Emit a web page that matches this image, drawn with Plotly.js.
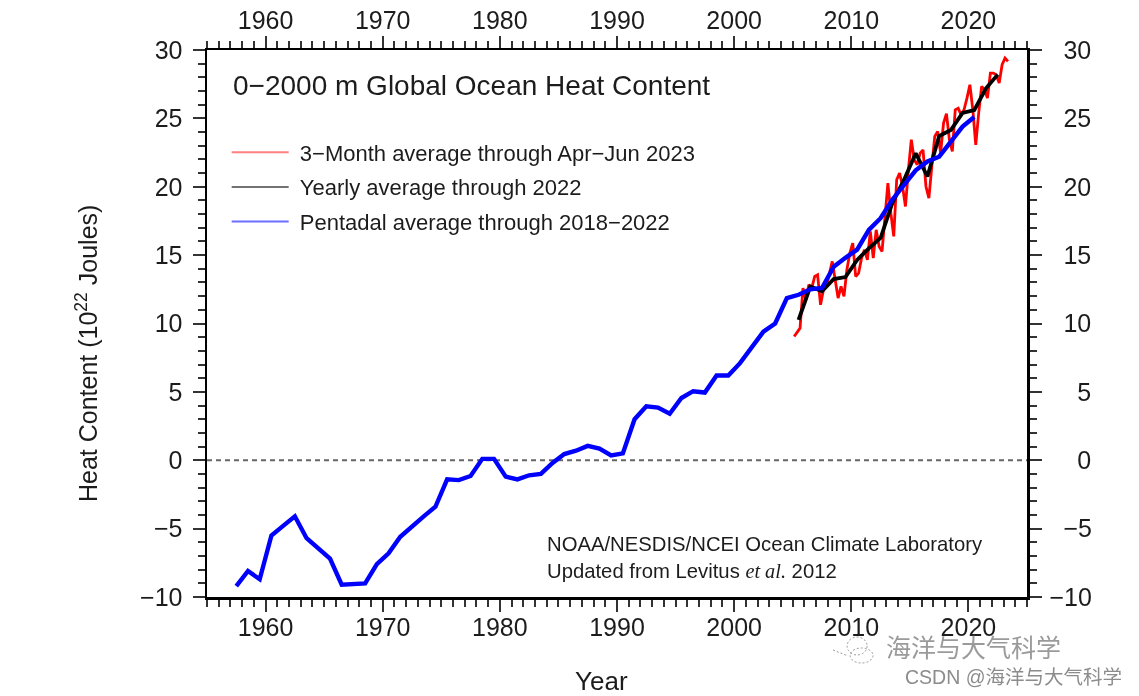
<!DOCTYPE html>
<html><head><meta charset="utf-8">
<script src="https://cdn.plot.ly/plotly-3.0.1.min.js"></script>
<style>html,body{margin:0;padding:0;background:#fff}#c{width:1139px;height:696px;filter:blur(0.45px)}</style>
</head><body><div id="c"></div>
<script>
const pentadalYears=[1957.5,1958.5,1959.5,1960.5,1961.5,1962.5,1963.5,1964.5,1965.5,1966.5,1967.5,1968.5,1969.5,1970.5,1971.5,1972.5,1973.5,1974.5,1975.5,1976.5,1977.5,1978.5,1979.5,1980.5,1981.5,1982.5,1983.5,1984.5,1985.5,1986.5,1987.5,1988.5,1989.5,1990.5,1991.5,1992.5,1993.5,1994.5,1995.5,1996.5,1997.5,1998.5,1999.5,2000.5,2001.5,2002.5,2003.5,2004.5,2005.5,2006.5,2007.5,2008.5,2009.5,2010.5,2011.5,2012.5,2013.5,2014.5,2015.5,2016.5,2017.5,2018.5,2019.5,2020.5];
const pentadalValues=[-9.2,-8.1,-8.7,-5.5,-4.8,-4.1,-5.7,-6.5,-7.2,-9.1,-9.05,-9.0,-7.6,-6.8,-5.6,-4.8,-4.1,-3.4,-1.4,-1.45,-1.15,0.1,0.1,-1.2,-1.4,-1.1,-1.0,-0.2,0.45,0.7,1.05,0.85,0.35,0.5,3.0,3.95,3.85,3.4,4.55,5.05,4.95,6.2,6.2,7.1,8.2,9.4,10.0,11.85,12.1,12.5,12.6,14.15,14.8,15.4,16.85,17.7,19.05,20.1,21.2,21.85,22.2,23.3,24.4,25.1];
const yearlyYears=[2005.5,2006.5,2007.5,2008.5,2009.5,2010.5,2011.5,2012.5,2013.5,2014.5,2015.5,2016.5,2017.5,2018.5,2019.5,2020.5,2021.5,2022.5];
const yearlyValues=[10.27,12.7,12.35,13.25,13.4,14.65,15.5,16.25,18.8,20.5,22.45,20.75,23.7,24.15,25.4,25.6,27.2,28.2];
const quarterYears=[2005.125,2005.375,2005.625,2005.875,2006.125,2006.375,2006.625,2006.875,2007.125,2007.375,2007.625,2007.875,2008.125,2008.375,2008.625,2008.875,2009.125,2009.375,2009.625,2009.875,2010.125,2010.375,2010.625,2010.875,2011.125,2011.375,2011.625,2011.875,2012.125,2012.375,2012.625,2012.875,2013.125,2013.375,2013.625,2013.875,2014.125,2014.375,2014.625,2014.875,2015.125,2015.375,2015.625,2015.875,2016.125,2016.375,2016.625,2016.875,2017.125,2017.375,2017.625,2017.875,2018.125,2018.375,2018.625,2018.875,2019.125,2019.375,2019.625,2019.875,2020.125,2020.375,2020.625,2020.875,2021.125,2021.375,2021.625,2021.875,2022.125,2022.375,2022.625,2022.875,2023.125,2023.375];
const quarterValues=[9.05,9.34,9.66,12.59,11.73,12.83,12.59,13.44,13.56,11.37,12.47,12.71,13.68,14.54,13.2,11.86,12.71,11.98,13.93,15.15,15.88,13.44,13.68,14.78,15.39,14.66,16.73,14.78,16.85,15.63,15.27,17.58,20.27,18.07,16.37,20.51,21.0,20.02,18.56,21.24,23.44,21.97,21.61,22.46,22.7,20.02,19.17,21.49,23.68,24.05,22.46,24.66,25.34,23.44,22.58,25.63,25.75,25.26,25.63,26.48,27.46,25.63,23.07,25.39,27.34,27.09,26.48,28.31,28.31,28.19,27.58,28.92,29.41,29.17];
const seriesNames=["3−Month average through Apr−Jun 2023","Yearly average through 2022","Pentadal average through 2018−2022"];
const xTicks=[1960,1970,1980,1990,2000,2010,2020];
const yTicks=[-10,-5,0,5,10,15,20,25,30];
const yLabels=["−10","−5","0","5","10","15","20","25","30"];
const NB='\u00A0';
const yLabelsRight=["−10",NB+NB+"−5",NB+NB+NB+NB+"0",NB+NB+NB+NB+"5",NB+NB+"10",NB+NB+"15",NB+NB+"20",NB+NB+"25",NB+NB+"30"];
const INK='#1c1c1c', FONT='"Liberation Sans",Arial,sans-serif';
function axis(extra){return Object.assign({showgrid:false,zeroline:false,showline:true,linecolor:'#000',linewidth:2.5,
  ticks:'outside',ticklen:12,tickwidth:2,tickcolor:'#333',tickfont:{family:FONT,size:25,color:INK},
  tickmode:'array',minor:{ticks:'outside',ticklen:7,tickwidth:2,tickcolor:'#333',dtick:1,tick0:0,showgrid:false}},extra);}
const data=[
 {x:quarterYears,y:quarterValues,mode:'lines',line:{color:'#ff0000',width:2.8},showlegend:false,hoverinfo:'skip'},
 {x:yearlyYears,y:yearlyValues,mode:'lines',line:{color:'#000',width:3.8},showlegend:false,hoverinfo:'skip'},
 {x:pentadalYears,y:pentadalValues,mode:'lines',line:{color:'#0000ff',width:4.4},showlegend:false,hoverinfo:'skip'},
 {x:[null],y:[null],mode:'lines',name:NB+seriesNames[0],legendgroup:'a',line:{color:'rgba(255,60,60,0.65)',width:2}},
 {x:[null],y:[null],mode:'lines',name:NB+seriesNames[1],legendgroup:'b',line:{color:'rgba(0,0,0,0.55)',width:2}},
 {x:[null],y:[null],mode:'lines',name:NB+seriesNames[2],legendgroup:'c',line:{color:'rgba(30,30,255,0.65)',width:2}},
 {x:[null],y:[null],xaxis:'x2',yaxis:'y2',showlegend:false,hoverinfo:'skip'}
];
const layout={
 width:1139,height:696,paper_bgcolor:'#fff',plot_bgcolor:'#fff',showlegend:true,
 margin:{l:206.5,r:112,t:50,b:99,pad:0},font:{family:FONT,color:INK},
 xaxis:axis({range:[1955,2025],tickvals:xTicks,ticktext:xTicks.map(String),ticklabelstandoff:-6}),
 yaxis:axis({range:[-10,30],tickvals:yTicks,ticktext:yLabels,ticklabelstandoff:5}),
 xaxis2:axis({range:[1955,2025],overlaying:'x',side:'top',anchor:'y',tickvals:xTicks,ticktext:xTicks.map(String),ticklabelstandoff:-3}),
 yaxis2:axis({range:[-10,30],overlaying:'y',side:'right',anchor:'x',tickvals:yTicks,ticktext:yLabelsRight,ticklabelstandoff:3}),
 legend:{x:0.024,y:0.851,xanchor:'left',yanchor:'top',bgcolor:'rgba(0,0,0,0)',font:{family:FONT,size:22,color:INK},itemwidth:57,tracegroupgap:3,traceorder:'grouped',itemclick:false},
 shapes:[
  {type:'line',xref:'paper',yref:'y',x0:0,x1:1,y0:0,y1:0,line:{color:'#666',width:2,dash:'5px,4px'},layer:'below'},
  {type:'circle',xref:'paper',yref:'paper',x0:0.7806,x1:0.805,y0:-0.106,y1:-0.0731,line:{color:'#999',width:1,dash:'2px,2px'}},
  {type:'circle',xref:'paper',yref:'paper',x0:0.7843,x1:0.8122,y0:-0.1207,y1:-0.0932,line:{color:'#999',width:1,dash:'2px,2px'}},
  {type:'line',xref:'paper',yref:'paper',x0:0.7635,x1:0.7818,y0:-0.0969,y1:-0.1079,line:{color:'#999',width:1,dash:'2px,2px'}}
 ],
 annotations:[
  {xref:'paper',yref:'paper',x:-0.147,y:0.445,xanchor:'center',yanchor:'middle',showarrow:false,textangle:-90,text:'Heat Content (10<sup>22</sup> Joules)',font:{family:FONT,size:25,color:INK}},
  {xref:'paper',yref:'paper',x:0.481,y:-0.153,xanchor:'center',yanchor:'middle',showarrow:false,text:'Year',font:{family:FONT,size:26,color:INK}},
  {xref:'paper',yref:'paper',x:0.0288,y:0.9665,xanchor:'left',yanchor:'top',showarrow:false,text:'0−2000 m Global Ocean Heat Content',font:{family:FONT,size:28,color:INK}},
  {xref:'paper',yref:'paper',x:0.4123,y:0.12,xanchor:'left',yanchor:'top',showarrow:false,align:'left',text:'NOAA/NESDIS/NCEI Ocean Climate Laboratory',font:{family:FONT,size:20.3,color:INK}},
  {xref:'paper',yref:'paper',x:0.4123,y:0.0705,xanchor:'left',yanchor:'top',showarrow:false,align:'left',text:'Updated from Levitus <span style="font-family:Liberation Serif;font-style:italic">et al.</span> 2012',font:{family:FONT,size:20.3,color:INK}},
  {xref:'paper',yref:'paper',x:0.8257,y:-0.0895,xanchor:'left',yanchor:'middle',showarrow:false,text:'海洋与大气科学',font:{family:'"Noto Sans CJK SC"',size:25,color:'rgba(120,120,120,0.75)'}},
  {xref:'paper',yref:'paper',x:1.118,y:-0.1463,xanchor:'right',yanchor:'middle',showarrow:false,text:'CSDN @海洋与大气科学',font:{family:'"Liberation Sans","Noto Sans CJK SC"',size:19.5,color:'#8c8c8c'}}
 ]
};
Plotly.newPlot('c',data,layout,{displayModeBar:false,staticPlot:true});
</script></body></html>
